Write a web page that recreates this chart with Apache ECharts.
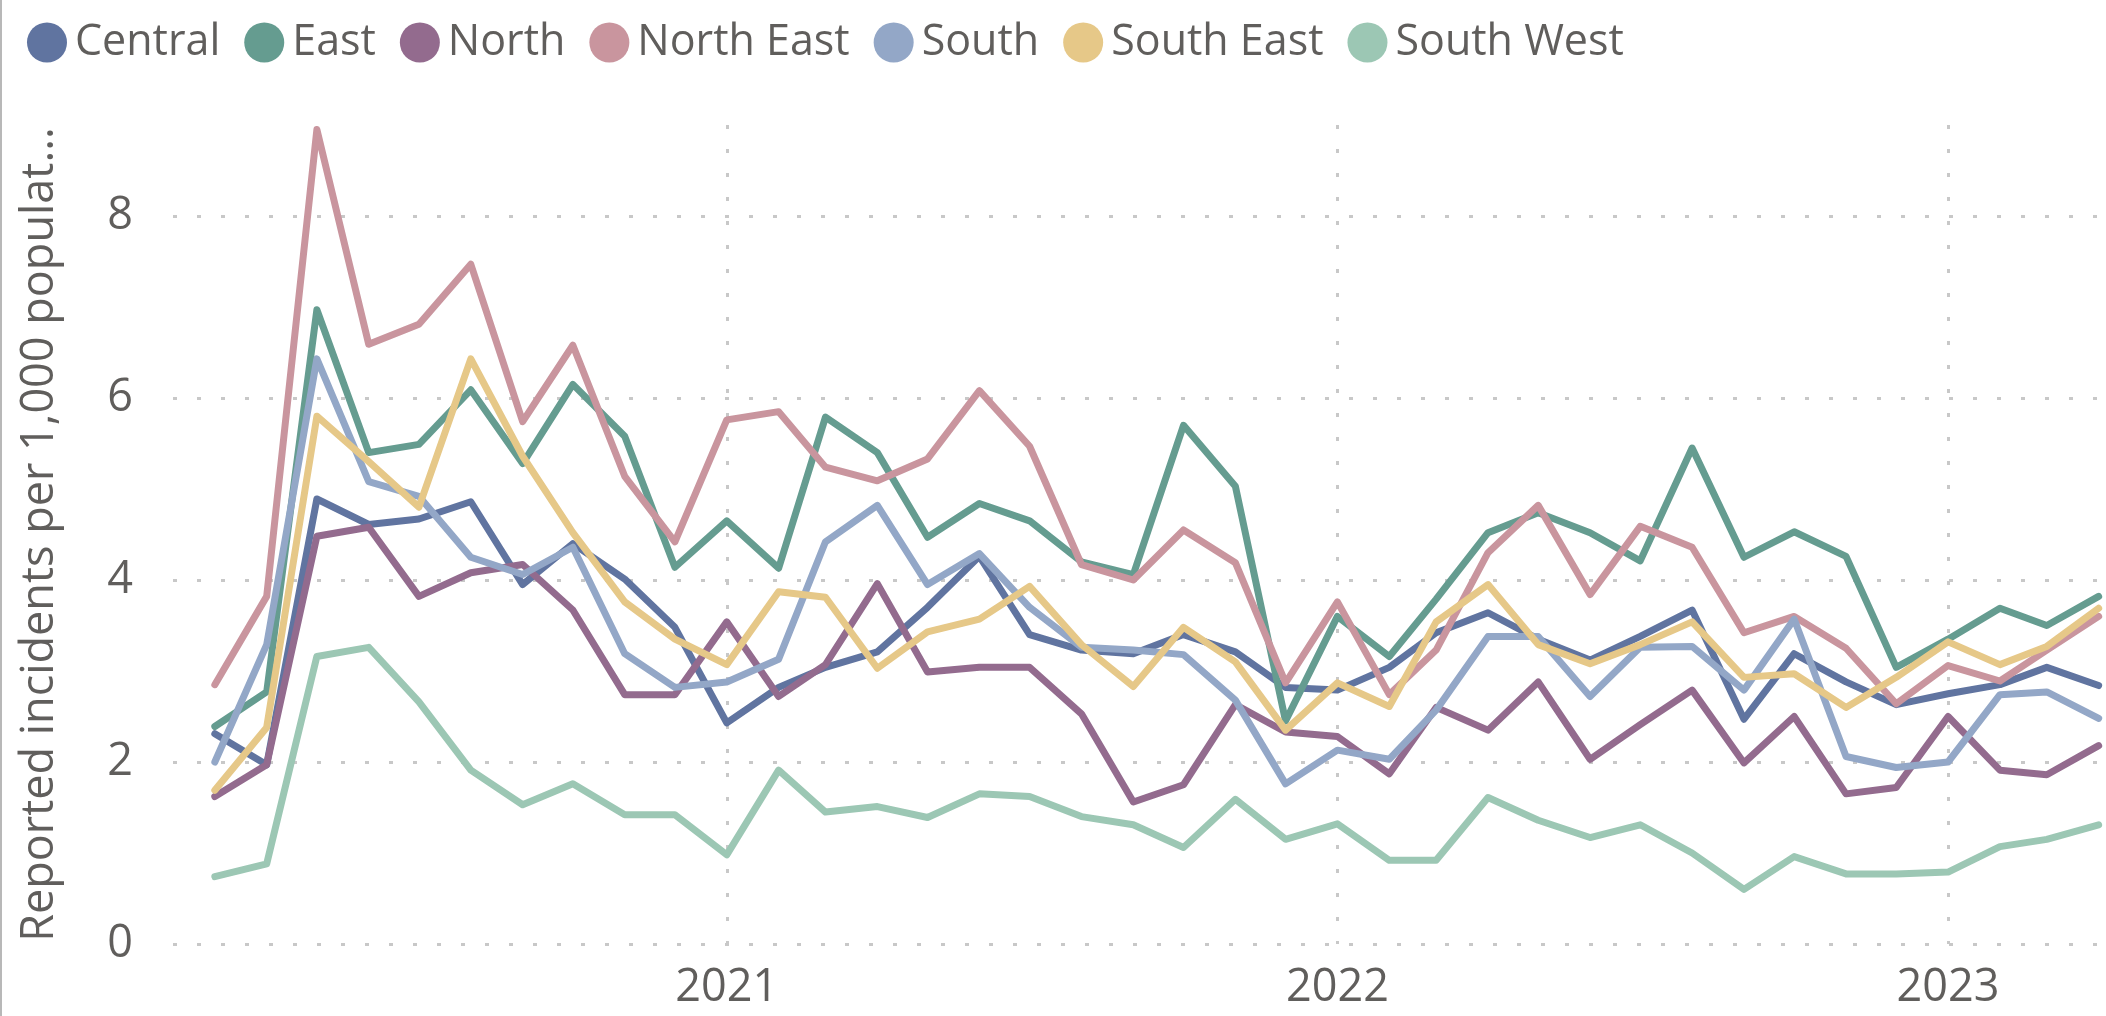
<!DOCTYPE html>
<html>
<head>
<meta charset="utf-8">
<script src="https://cdn.jsdelivr.net/npm/echarts@6/dist/echarts.min.js"></script>
<style>
html,body{margin:0;padding:0;background:#fff;}
#chart{width:2106px;height:1016px;}
</style>
</head>
<body>
<div id="chart"></div>
<script>
const months = ['2020-03','2020-04','2020-05','2020-06','2020-07','2020-08','2020-09','2020-10','2020-11','2020-12',
  '2021-01','2021-02','2021-03','2021-04','2021-05','2021-06','2021-07','2021-08','2021-09','2021-10',
  '2021-11','2021-12','2022-01','2022-02','2022-03','2022-04','2022-05','2022-06','2022-07','2022-08',
  '2022-09','2022-10','2022-11','2022-12','2023-01','2023-02','2023-03','2023-04'];

const central = [2.31,1.97,4.89,4.61,4.67,4.86,3.95,4.40,4.01,3.48, 2.43,2.82,3.04,3.21,3.70,4.26,3.40,3.23,3.19,3.40, 3.21,2.82,2.79,3.04,3.42,3.64,3.35,3.12,3.38,3.67, 2.47,3.19,2.88,2.63,2.75,2.85,3.04,2.84];
const east = [2.39,2.77,6.97,5.40,5.49,6.09,5.28,6.15,5.58,4.14, 4.65,4.13,5.79,5.40,4.47,4.84,4.65,4.20,4.06,5.70, 5.03,2.45,3.60,3.16,3.79,4.52,4.74,4.52,4.21,5.45, 4.25,4.53,4.26,3.04,3.35,3.69,3.50,3.82];
const north = [1.62,1.97,4.48,4.58,3.82,4.08,4.17,3.67,2.74,2.74, 3.54,2.72,3.07,3.96,2.99,3.04,3.04,2.53,1.56,1.75, 2.63,2.33,2.28,1.87,2.60,2.35,2.88,2.03,2.41,2.79, 1.99,2.50,1.65,1.72,2.50,1.91,1.86,2.18];
const northEast = [2.85,3.82,8.95,6.59,6.81,7.47,5.74,6.58,5.14,4.42, 5.76,5.85,5.24,5.09,5.33,6.08,5.47,4.17,4.00,4.55, 4.19,2.87,3.76,2.74,3.23,4.30,4.82,3.84,4.59,4.36, 3.42,3.60,3.25,2.64,3.06,2.89,3.23,3.60];
const south = [2.00,3.29,6.43,5.08,4.92,4.25,4.06,4.36,3.19,2.82, 2.88,3.13,4.42,4.82,3.95,4.29,3.70,3.26,3.23,3.18, 2.68,1.76,2.13,2.03,2.57,3.38,3.38,2.72,3.26,3.27, 2.79,3.57,2.06,1.94,2.00,2.74,2.77,2.48];
const southEast = [1.69,2.38,5.80,5.30,4.80,6.43,5.36,4.52,3.76,3.35, 3.07,3.87,3.81,3.03,3.43,3.57,3.93,3.29,2.83,3.48, 3.10,2.35,2.87,2.61,3.54,3.95,3.29,3.08,3.29,3.54, 2.93,2.97,2.60,2.93,3.32,3.07,3.27,3.69];
const southWest = [0.74,0.88,3.16,3.26,2.66,1.91,1.53,1.76,1.42,1.42, 0.98,1.91,1.45,1.51,1.39,1.65,1.62,1.40,1.31,1.06, 1.59,1.15,1.32,0.92,0.92,1.61,1.36,1.17,1.31,1.00, 0.60,0.96,0.77,0.77,0.79,1.07,1.15,1.31];

const seriesNames = ['Central','East','North','North East','South','South East','South West'];
const seriesValues = [central, east, north, northEast, south, southEast, southWest];
const colors = ['#6074A0','#659C90','#936B8E','#C9959E','#93A7C7','#E6C888','#9CC7B4'];

const yTicks = [0,2,4,6,8];
const yearTicks = ['2021-01','2022-01','2023-01'];
const yearLabels = ['2021','2022','2023'];
const yTitle = 'Reported incidents per 1,000 populat...';

function toTime(m){ const p = m.split('-'); return Date.UTC(+p[0], +p[1]-1, 1); }
const yearTickTimes = yearTicks.map(toTime);

const FONT = '"Segoe UI", "Open Sans", sans-serif';
const TXT = '#605E5C';
const GRID = { color:'#c8c8c8', width:3, type:[4,20] };

const chart = echarts.init(document.getElementById('chart'), null, {renderer:'canvas'});
chart.setOption({
  animation:false,
  color: colors,
  textStyle:{fontFamily:FONT},
  graphic:[{type:'rect', left:0, top:0, shape:{width:2, height:1016}, style:{fill:'#b8b8b8'}, silent:true}],
  legend:{
    data: seriesNames,
    left: 22, top: 16,
    icon:'circle', itemWidth:40, itemHeight:40, itemGap:24,
    textStyle:{fontSize:43, color:TXT, fontFamily:FONT, padding:[0,0,0,3]}
  },
  grid:{left:173, right:4, top:125, bottom:72, containLabel:false},
  xAxis:{
    type:'value',
    min: Date.UTC(2020,1,5),
    max: Date.UTC(2023,3,3),
    axisLine:{show:false},
    axisTick:{show:false, customValues: yearTickTimes},
    axisLabel:{
      customValues: yearTickTimes,
      fontSize:45, color:TXT, margin:22,
      formatter: v => yearLabels[yearTickTimes.indexOf(v)]
    },
    splitLine:{show:true, lineStyle:GRID}
  },
  yAxis:{
    type:'value', min:0, max:9,
    axisLine:{show:false},
    axisTick:{show:false, customValues: yTicks},
    axisLabel:{customValues: yTicks, fontSize:45, color:TXT, margin:40},
    splitLine:{show:true, lineStyle:GRID},
    name: yTitle, nameLocation:'middle', nameGap:110,
    nameTextStyle:{fontSize:45, color:TXT, fontFamily:FONT}
  },
  series: seriesNames.map((n,k)=>({
    name:n, type:'line', showSymbol:false, symbol:'none',
    data: months.map((m,i)=>[toTime(m), seriesValues[k][i]]),
    lineStyle:{width:7, cap:'round', join:'round'},
    emphasis:{disabled:true}
  }))
});
</script>
</body>
</html>
